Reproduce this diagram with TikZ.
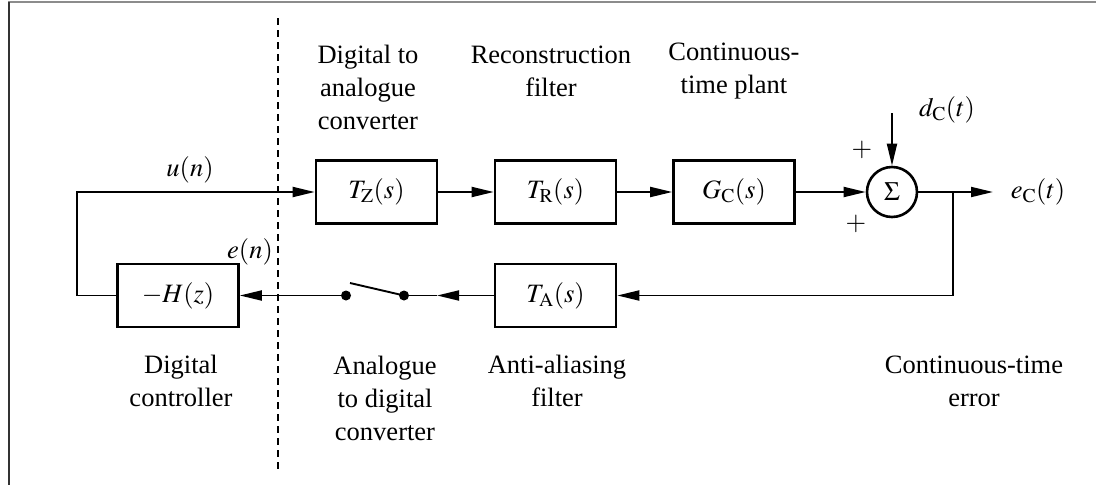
\documentclass[tikz,border=0pt]{standalone}
\usepackage{mathptmx}
\usepackage{fontspec}
\setmainfont{Liberation Serif}
\usetikzlibrary{arrows.meta}
\usetikzlibrary{positioning}

\newcommand{\lblfont}{\fontsize{26.5}{33}\selectfont}

\tikzset{
  block/.style={draw, line width=2.6pt, minimum width=121pt, minimum height=63pt, inner sep=0pt, font=\lblfont},
  sig/.style={line width=1.9pt},
  arr/.style={sig, -{Triangle[length=22pt,width=10pt]}},
  lbl/.style={align=center, font=\lblfont, inner sep=0pt},
  swdot/.style={circle, fill, minimum size=10pt, inner sep=0pt},
}

\begin{document}
\begin{tikzpicture}[x=1pt, y=-1pt]
        \useasboundingbox (0,0) rectangle (1096,485);
        % frame of the scan
        \draw[line width=2pt, black!45] (8,1.5) -- (1096,1.5);
        \draw[line width=2pt, black!80] (9,1.5) -- (9,485);

        % digital / analogue boundary
        \draw[line width=1.8pt, dash pattern=on 7pt off 5pt] (278,18) -- (278,470);

        % forward path
        \node[block] (tz) at (376.5,192) {$T_{\mathrm{Z}}(s)$};
        \node[block] (tr) at (555.5,192) {$T_{\mathrm{R}}(s)$};
        \node[block] (gc) at (734,192) {$G_{\mathrm{C}}(s)$};
        \node[draw, circle, line width=2.6pt, minimum size=50pt, inner sep=0pt, font=\lblfont] (sum) at (892,192) {$\Sigma$};

        % return path
        \node[block] (ta) at (555.5,295.5) {$T_{\mathrm{A}}(s)$};
        \node[block] (hz) at (178,295.5) {$-H(z)$};
        \node[swdot] (swl) at (346,295.5) {};
        \node[swdot] (swr) at (404,295.5) {};

        \coordinate (out) at (993,192);
        \coordinate (br) at (953,192);
        \coordinate (din) at (892,113);
        \coordinate (adtip) at (437,295.5);
        \coordinate (lever) at (350,283);
        \coordinate (lp) at (77,295.5);

        \draw[arr] (tz) -- (tr);
        \draw[arr] (tr) -- (gc);
        \draw[arr] (gc) -- (sum);
        \draw[arr] (din) -- (sum);
        \draw[arr] (sum) -- (out);
        \draw[arr] (br) |- (ta.east);
        \draw[arr] (ta) -- (adtip);
        \draw[sig] (adtip) -- (swr);
        \draw[sig] (swr.center) -- (lever);
        \draw[arr] (swl) -- (hz);
        \draw[arr] (hz.west) -- (lp) |- (tz.west);

        % signal labels
        \node[lbl] (un) at (190,170) {$u(n)$};
        \node[lbl] (en) at (250,252) {$e(n)$};
        \node[lbl] (dc) at (947,110) {$d_{\mathrm{C}}(t)$};
        \node[lbl] (ec) at (1038,192) {$e_{\mathrm{C}}(t)$};
        \node[lbl] (pa) at (862,150) {$+$};
        \node[lbl] (pb) at (856,224) {$+$};

        % block captions
        \node[lbl] (tzc) at (368,87) {Digital to\\analogue\\converter};
        \node[lbl] (trc) at (551,71) {Reconstruction\\filter};
        \node[lbl] (gcc) at (734,71) {Continuous-\\time plant};
        \node[lbl] (hzc) at (181,381) {Digital\\controller};
        \node[lbl] (swc) at (385,398) {Analogue\\to digital\\converter};
        \node[lbl] (tac) at (557,381) {Anti-aliasing\\filter};
        \node[lbl] (ecc) at (974,381) {Continuous-time\\error};
    \end{tikzpicture}
\end{document}
